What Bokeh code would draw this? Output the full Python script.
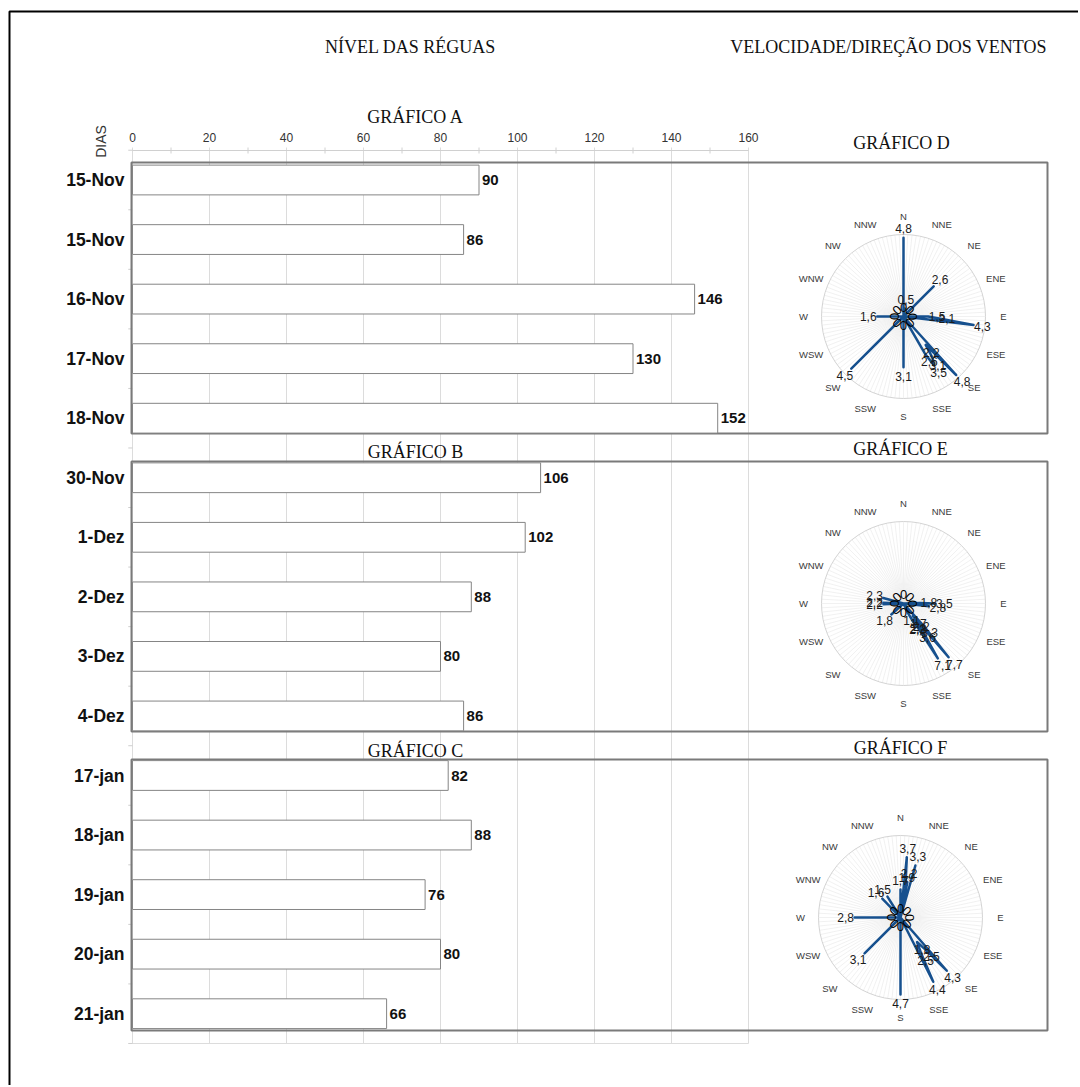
import numpy as np
from bokeh.plotting import figure
from bokeh.models import Range1d
from bokeh.core.properties import value
from bokeh.embed import file_html
from bokeh.resources import INLINE

# ---------------- data ----------------
days_a = ["15-Nov", "15-Nov", "16-Nov", "17-Nov", "18-Nov"]
levels_a = [90, 86, 146, 130, 152]
days_b = ["30-Nov", "1-Dez", "2-Dez", "3-Dez", "4-Dez"]
levels_b = [106, 102, 88, 80, 86]
days_c = ["17-jan", "18-jan", "19-jan", "20-jan", "21-jan"]
levels_c = [82, 88, 76, 80, 66]
x_ticks = [0, 20, 40, 60, 80, 100, 120, 140, 160]
x_minor = [10, 30, 50, 70, 90, 110, 130, 150]

compass = ["N", "NNE", "NE", "ENE", "E", "ESE", "SE", "SSE",
           "S", "SSW", "SW", "WSW", "W", "WNW", "NW", "NNW"]

rose_d_dir = [0, 8, 45, 90, 93, 97, 138, 142, 145, 148, 150, 180, 225, 270]
rose_d_speed = [4.8, 0.5, 2.6, 1.5, 2.1, 4.3, 4.8, 2.2, 3.1, 3.5, 2.6, 3.1, 4.5, 1.6]
rose_e_dir = [88, 90, 96, 138, 140, 142, 143, 145, 148, 150, 152, 155, 228, 268, 272, 285]
rose_e_speed = [1.8, 3.5, 2.8, 3.3, 7.7, 2.2, 1.7, 3.6, 7.1, 2.2, 2.3, 1.1, 1.8, 2.2, 2.2, 2.3]
rose_f_dir = [0, 6, 9, 11, 16, 139, 142, 146, 150, 153, 180, 225, 270, 316, 328]
rose_f_speed = [1.7, 3.7, 1.9, 2.2, 3.3, 4.3, 2.5, 1.8, 2.5, 4.4, 4.7, 3.1, 2.8, 1.6, 1.5]

page_titles = ["NÍVEL DAS RÉGUAS", "VELOCIDADE/DIREÇÃO DOS VENTOS"]
bar_titles = ["GRÁFICO A", "GRÁFICO B", "GRÁFICO C"]
rose_titles = ["GRÁFICO D", "GRÁFICO E", "GRÁFICO F"]

# ---------------- layout constants (screen px) ----------------
W, H = 1078, 1085
X0PX, PX_PER_UNIT = 132.0, 3.85
ROW0PX, ROW_PX = 179.5, 59.55
BLUE = "#16508e"
SANS = value("Liberation Sans")
SERIF = value("Liberation Serif")

p = figure(width=W, height=H, x_range=Range1d(0, W), y_range=Range1d(H, 0),
           output_backend="svg", toolbar_location=None, min_border=0,
           x_axis_location=None, y_axis_location=None)
p.grid.visible = False
p.outline_line_color = None
p.background_fill_color = "white"
p.border_fill_color = "white"

p.extra_x_ranges["val"] = Range1d((0 - X0PX) / PX_PER_UNIT, (W - X0PX) / PX_PER_UNIT)
p.extra_y_ranges["row"] = Range1d((H - ROW0PX) / ROW_PX, (0 - ROW0PX) / ROW_PX)

# page frame
p.quad(left=[9], right=[1300], top=[11], bottom=[1300], fill_color=None,
       line_color="black", line_width=2)

# page titles
p.text(x=[410, 888], y=[46, 46], text=page_titles, text_font=SERIF, text_font_size="18px",
       text_align="center", text_baseline="middle", text_color="#111111")

# ---------------- bar chart ----------------
days = days_a + days_b + days_c
levels = levels_a + levels_b + levels_c
rows = list(range(len(days)))

# grid lines
p.segment(x0=x_ticks, y0=[147] * len(x_ticks), x1=x_ticks, y1=[1043] * len(x_ticks),
          x_range_name="val", line_color="#dcdcdc", line_width=1)
p.segment(x0=[0], y0=[150], x1=[x_ticks[-1]], y1=[150], x_range_name="val",
          line_color="#d0d0d0", line_width=1)
p.segment(x0=x_minor, y0=[147] * len(x_minor), x1=x_minor, y1=[153] * len(x_minor),
          x_range_name="val", line_color="#d0d0d0", line_width=1)
p.segment(x0=[-1], y0=[1043], x1=[x_ticks[-1]], y1=[1043], x_range_name="val",
          line_color="#dcdcdc", line_width=1)
row_edges = [r - 0.5 for r in rows] + [rows[-1] + 0.5]
p.segment(x0=[-1.1] * len(row_edges), y0=row_edges, x1=[0] * len(row_edges), y1=row_edges,
          x_range_name="val", y_range_name="row", line_color="#cfcfcf", line_width=1)

p.text(x=x_ticks, y=[137] * len(x_ticks), text=[str(t) for t in x_ticks], x_range_name="val",
       text_font=SANS, text_font_size="12px", text_align="center", text_baseline="middle",
       text_color="#333333")
p.text(x=[100], y=[141], text=["DIAS"], angle=np.pi / 2, text_font=SANS, text_font_size="14px",
       text_align="center", text_baseline="middle", text_color="#333333")

# panel boxes
p.quad(left=[131, 131, 131], right=[1047, 1047, 1047], top=[162, 461, 759],
       bottom=[433, 731, 1030], fill_color=None, line_color="#7a7a7a", line_width=2)

p.hbar(y=rows, left=0, right=levels, height=0.5, x_range_name="val", y_range_name="row",
       fill_color="white", line_color="#858585", line_width=1)

p.text(x=levels, y=rows, text=[str(v) for v in levels], x_offset=3, x_range_name="val",
       y_range_name="row", text_font=SANS, text_font_style="bold", text_font_size="15px",
       text_baseline="middle", text_color="#111111")
p.text(x=[0] * len(days), y=rows, text=days, x_offset=-8, x_range_name="val",
       y_range_name="row", text_font=SANS, text_font_style="bold", text_font_size="17.5px",
       text_align="right", text_baseline="middle", text_color="#111111")

p.text(x=[415, 415, 415], y=[116, 451, 750], text=bar_titles, text_font=SERIF,
       text_font_size="18px", text_align="center", text_baseline="middle", text_color="#111111")
p.text(x=[901, 900, 900], y=[142, 448, 747], text=rose_titles, text_font=SERIF,
       text_font_size="18px", text_align="center", text_baseline="middle", text_color="#111111")

# ---------------- wind roses ----------------
R_PX = 82.0
LABEL_R_PX = 100.0


def rose(name, cx, cy, vmax, dirs, speeds):
    k = R_PX / vmax
    xr, yr = name + "x", name + "y"
    p.extra_x_ranges[xr] = Range1d((0 - cx) / k, (W - cx) / k)
    p.extra_y_ranges[yr] = Range1d(-(H - cy) / k, (cy - 0) / k)
    kw = dict(x_range_name=xr, y_range_name=yr)

    spokes = np.radians(np.arange(0, 360, 3))
    p.segment(x0=np.zeros(len(spokes)), y0=np.zeros(len(spokes)),
              x1=vmax * np.sin(spokes), y1=vmax * np.cos(spokes),
              line_color="#ebebeb", line_width=0.7, **kw)
    p.circle(x=[0], y=[0], radius=vmax, fill_color=None, line_color="#d4d4d4",
             line_width=1, **kw)

    cb = np.radians(np.arange(16) * 22.5)
    lr = LABEL_R_PX / k
    p.text(x=lr * np.sin(cb), y=lr * np.cos(cb), text=compass, text_font=SANS,
           text_font_size="9.5px", text_align="center", text_baseline="middle",
           text_color="#3a3a3a", **kw)

    order = np.argsort(dirs)
    d = np.array(dirs, dtype=float)[order]
    s = np.array(speeds, dtype=float)[order]
    xs, ys = [0.0], [0.0]
    for i in range(len(d)):
        b = np.radians(d[i])
        xs.append(s[i] * np.sin(b))
        ys.append(s[i] * np.cos(b))
        if i == len(d) - 1 or d[i + 1] - d[i] > 4:
            xs.append(0.0)
            ys.append(0.0)
    p.line(x=xs, y=ys, line_color=BLUE, line_width=2.5, line_join="round", **kw)

    # zero labels around the centre
    zb = np.radians(np.arange(0, 360, 45))
    p.text(x=np.zeros(len(zb)), y=np.zeros(len(zb)), text=["0"] * len(zb),
           x_offset=9 * np.sin(zb), y_offset=-9 * np.cos(zb), angle=-zb,
           text_font=SANS, text_font_size="13px", text_align="center",
           text_baseline="middle", text_color="#000000", **kw)

    b = np.radians(np.array(dirs, dtype=float))
    sp = np.array(speeds, dtype=float)
    p.text(x=sp * np.sin(b), y=sp * np.cos(b),
           text=[f"{v:.1f}".replace(".", ",") for v in speeds],
           x_offset=9 * np.sin(b), y_offset=-9 * np.cos(b), text_font=SANS,
           text_font_size="12px", text_align="center", text_baseline="middle",
           text_color="#1a1a1a", **kw)


rose("d", 903, 316, 5, rose_d_dir, rose_d_speed)
rose("e", 903, 603, 9, rose_e_dir, rose_e_speed)
rose("f", 900, 917, 5, rose_f_dir, rose_f_speed)

open("out.html", "w").write(file_html(p, INLINE))
